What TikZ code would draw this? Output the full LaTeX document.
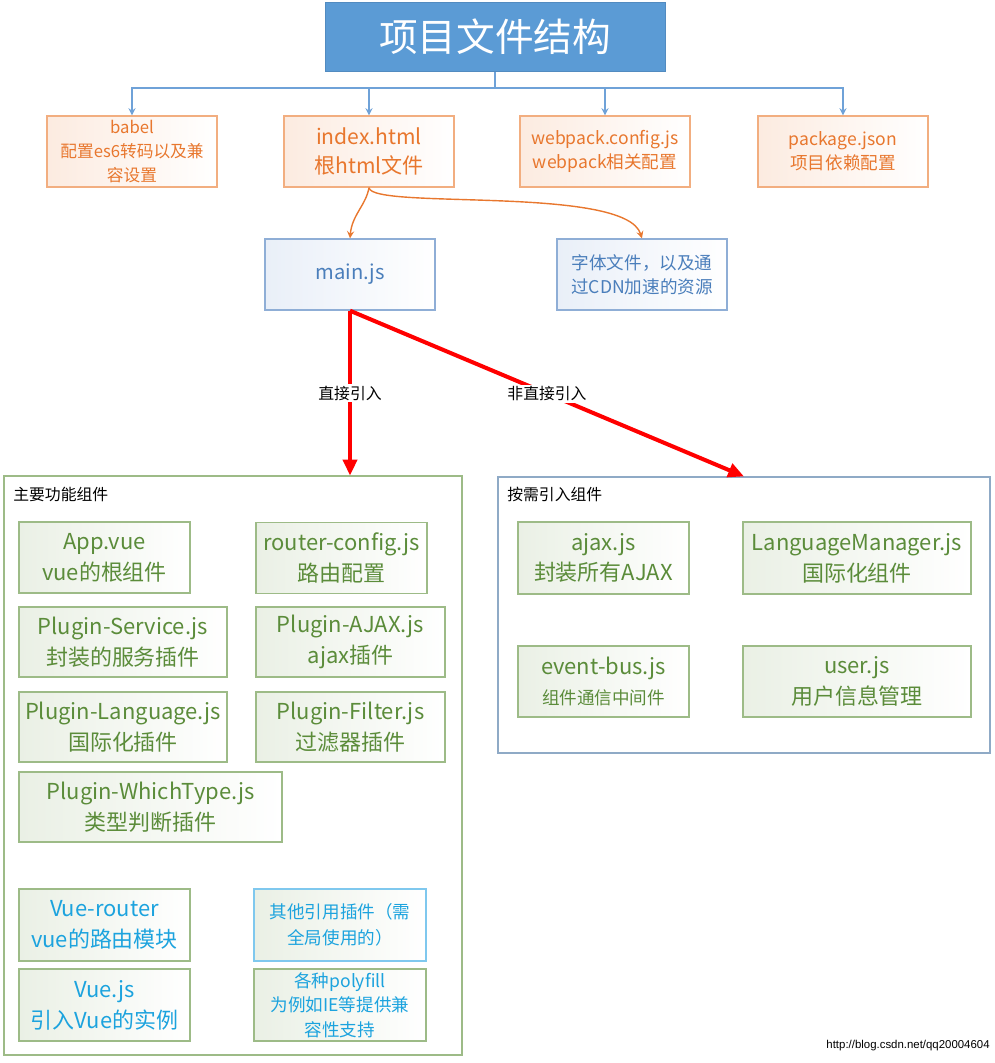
\documentclass[tikz,border=0pt]{standalone}
\usepackage{fontspec}
\setmainfont{Noto Sans CJK SC}
\newfontfamily\urlfont{Liberation Sans}
\usepackage{xcolor}
\usepackage{tikz}
\usetikzlibrary{arrows, arrows.meta, positioning}

\definecolor{titleblue}{HTML}{5B9BD5}
\definecolor{treeblue}{HTML}{6FA2D8}
\definecolor{orangeline}{HTML}{F2AE80}
\definecolor{orangetext}{HTML}{E8772E}
\definecolor{orangebg}{HTML}{FCEBE0}
\definecolor{blueline}{HTML}{8FAED6}
\definecolor{bluetext}{HTML}{4A7EBB}
\definecolor{bluebg}{HTML}{E9EFF8}
\definecolor{greenline}{HTML}{9DBB87}
\definecolor{greentext}{HTML}{5B8C3A}
\definecolor{greenbg}{HTML}{EAF0E5}
\definecolor{cyantext}{HTML}{1CA3DE}
\definecolor{cyanline}{HTML}{7FC8EE}
\definecolor{groupblue}{HTML}{8FAAC6}

\newcommand{\fbig}{\fontsize{12.5}{17.5}\selectfont}
\newcommand{\fmid}{\fontsize{10}{13.5}\selectfont}
\newcommand{\fsmall}{\fontsize{9}{12}\selectfont}

\tikzstyle{titlebox} = [rectangle, fill=titleblue, draw=titleblue!90!black, text=white, minimum width=6.8cm, minimum height=1.38cm, font=\fontsize{22}{26}\selectfont]
\tikzstyle{topbox} = [rectangle, draw=orangeline, line width=0.8pt, left color=orangebg, right color=white, text=orangetext, align=center, inner sep=0pt, minimum width=3.4cm, minimum height=1.42cm, font=\fmid]
\tikzstyle{srcbox} = [rectangle, draw=blueline, line width=0.8pt, left color=bluebg, right color=white, text=bluetext, align=center, inner sep=0pt, minimum width=3.4cm, minimum height=1.42cm, font=\fmid]
\tikzstyle{compbox} = [rectangle, draw=greenline, line width=0.8pt, left color=greenbg, right color=white, text=greentext, align=center, inner sep=0pt, minimum width=3.42cm, minimum height=1.42cm, font=\fbig]
\tikzstyle{libbox} = [compbox, text=cyantext]
\tikzstyle{groupbox} = [rectangle, line width=0.7pt, inner sep=0pt]
\tikzstyle{treearrow} = [->, >=stealth, draw=treeblue, line width=0.8pt]
\tikzstyle{linkarrow} = [->, >=stealth, draw=orangetext, line width=0.8pt]
\tikzstyle{redarrow} = [-{Triangle[length=9pt, width=8pt]}, draw=red, line width=2.3pt]

\begin{document}
\begin{tikzpicture}[x=0.02cm, y=-0.02cm]
\useasboundingbox (0,0) rectangle (995,1063);

\node (title) [titlebox] at (495,37) {项目文件结构};
\node (babel) [topbox, font=\fontsize{9.5}{13.6}\selectfont] at (132,151.5) {babel\\配置es6转码以及兼\\容设置};
\node (index) [topbox, font=\fontsize{12}{17}\selectfont] at (369,151.5) {index.html\\根html文件};
\node (webpack) [topbox] at (605,151.5) {webpack.config.js\\webpack相关配置};
\node (package) [topbox] at (843,151.5) {package.json\\项目依赖配置};

\node (mainjs) [srcbox, font=\fontsize{11.5}{14}\selectfont] at (350,274.5) {main.js};
\node (fonts) [srcbox] at (642,274.5) {字体文件，以及通\\过CDN加速的资源};

% containers
\node (core) [groupbox, draw=greenline, minimum width=9.16cm, minimum height=11.58cm] at (233,765.5) {};
\node (ondemand) [groupbox, draw=groupblue, minimum width=9.84cm, minimum height=5.52cm] at (744,615) {};
\node (coretitle) [anchor=west, inner sep=0pt, font=\fsmall] at (13,494) {主要功能组件};
\node (ondemandtitle) [anchor=west, inner sep=0pt, font=\fsmall] at (507,494) {按需引入组件};

\node (app) [compbox] at (104.5,557.5) {App.vue\\vue的根组件};
\node (router) [compbox] at (341.5,558) {router-config.js\\路由配置};
\node (service) [compbox, minimum width=4.16cm, minimum height=1.4cm] at (123,642) {Plugin-Service.js\\封装的服务插件};
\node (ajaxplug) [compbox, minimum width=3.78cm, minimum height=1.4cm] at (350.5,642) {Plugin-AJAX.js\\ajax插件};
\node (language) [compbox, minimum width=4.16cm, minimum height=1.4cm] at (123,727) {Plugin-Language.js\\国际化插件};
\node (filter) [compbox, minimum width=3.78cm, minimum height=1.4cm] at (350.5,727) {Plugin-Filter.js\\过滤器插件};
\node (whichtype) [compbox, minimum width=5.26cm, minimum height=1.4cm] at (150.5,807) {Plugin-WhichType.js\\类型判断插件};

\node (vuerouter) [libbox, minimum height=1.44cm] at (104.5,925) {Vue-router\\vue的路由模块};
\node (others) [libbox, draw=cyanline, minimum width=3.44cm, minimum height=1.44cm, font=\fontsize{10}{15}\selectfont] at (340,925) {其他引用插件（需\\全局使用的）};
\node (vuejs) [libbox, minimum height=1.44cm] at (104.5,1005) {Vue.js\\引入Vue的实例};
\node (polyfill) [libbox, minimum width=3.44cm, minimum height=1.44cm, font=\fontsize{10}{14}\selectfont] at (340,1005) {各种polyfill\\为例如IE等提供兼\\容性支持};

\node (ajaxjs) [compbox, minimum height=1.44cm] at (603.5,558) {ajax.js\\封装所有AJAX};
\node (langmgr) [compbox, minimum width=4.56cm, minimum height=1.44cm] at (857,558) {LanguageManager.js\\国际化组件};
\node (eventbus) [compbox] at (603.5,681.5) {event-bus.js\\{\fontsize{10}{14}\selectfont 组件通信中间件}};
\node (user) [compbox, minimum width=4.56cm] at (857,681.5) {user.js\\用户信息管理};

\node (url) [anchor=east, inner sep=0pt, font=\urlfont\fontsize{6.5}{8}\selectfont] at (990,1046) {http://blog.csdn.net/qq20004604};

\coordinate (split) at (495,88);
\draw [draw=treeblue, line width=0.8pt] (title.south) -- (split);
\draw [treearrow] (split) -| (babel.north);
\draw [treearrow] (split) -| (index.north);
\draw [treearrow] (split) -| (webpack.north);
\draw [treearrow] (split) -| (package.north);

\draw [linkarrow] (index.south) .. controls (366,205) and (352,215) .. (mainjs.north);
\draw [linkarrow] (index.south) .. controls (372,210) and (625,185) .. (fonts.north);

\draw [redarrow] (mainjs.south) -- node[fill=white, text=black, font=\fsmall, inner sep=1pt] {直接引入} (mainjs.south |- core.north);
\draw [redarrow] (mainjs.south) -- node[fill=white, text=black, font=\fsmall, inner sep=1pt] {非直接引入} (ondemand.north);
\end{tikzpicture}
\end{document}
